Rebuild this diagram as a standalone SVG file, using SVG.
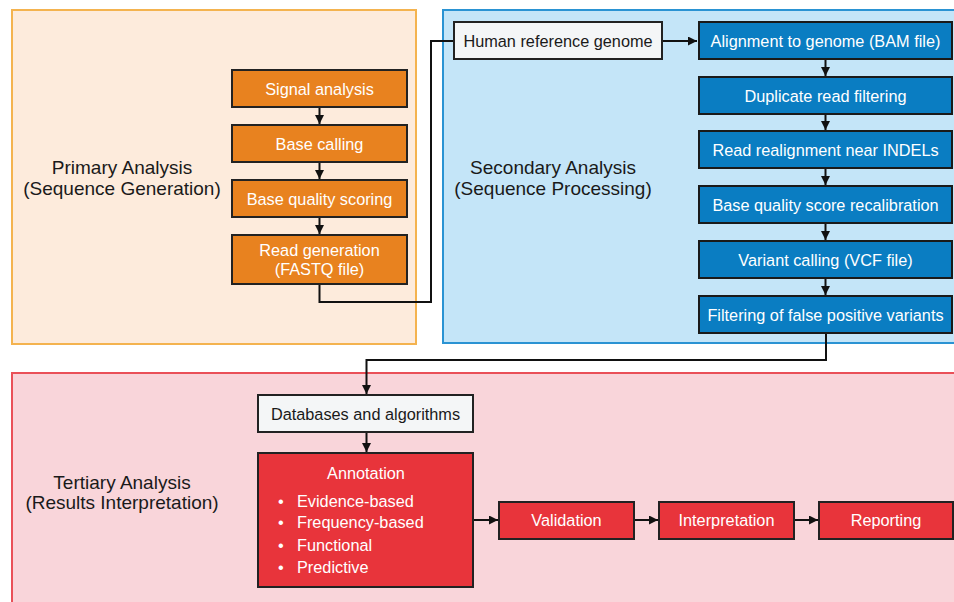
<svg xmlns="http://www.w3.org/2000/svg" width="954" height="602" viewBox="0 0 954 602">
<defs>
<marker id="arr" viewBox="0 0 10 10" refX="10" refY="5" markerWidth="4.5" markerHeight="4.5" orient="auto" markerUnits="strokeWidth">
<path d="M0,0 L10,5 L0,10 z" fill="#111"/>
</marker>
<style>
text{font-family:"Liberation Sans",Arial,sans-serif}
.lbl{font-size:19px;fill:#1a1a1a;text-anchor:middle}
.bt{font-size:16.3px;fill:#fff;text-anchor:middle}
.wt{font-size:16.3px;fill:#1a1a1a;text-anchor:middle}
.orange{fill:#e8821f;stroke:#222;stroke-width:2}
.blue{fill:#0a7dc2;stroke:#1a1a1a;stroke-width:2}
.red{fill:#e8343b;stroke:#222;stroke-width:2}
.white{fill:#f4f6f7;stroke:#222;stroke-width:2}
.conn{fill:none;stroke:#111;stroke-width:2}
.ann{font-size:16.3px;fill:#fff}
</style>
</defs>
<rect width="954" height="602" fill="#fff"/>
<g id="panels">
<rect x="12" y="10" width="404" height="334" fill="#fdebdc" stroke="#f4b34f" stroke-width="2"/>
<rect x="443" y="10" width="520" height="333" fill="#c4e5f8" stroke="#2a93d3" stroke-width="2"/>
<rect x="12" y="373" width="950" height="240" fill="#f9d5da" stroke="#ea5058" stroke-width="2"/>
<text class="lbl" x="122" y="174">Primary Analysis</text>
<text class="lbl" x="122" y="195">(Sequence Generation)</text>
<text class="lbl" x="553" y="174">Secondary Analysis</text>
<text class="lbl" x="553" y="195">(Sequence Processing)</text>
<text class="lbl" x="122" y="489">Tertiary Analysis</text>
<text class="lbl" x="122" y="509">(Results Interpretation)</text>
</g>
<g id="connectors">
<line class="conn" x1="319.5" y1="107" x2="319.5" y2="124" marker-end="url(#arr)"/>
<line class="conn" x1="319.5" y1="162" x2="319.5" y2="179" marker-end="url(#arr)"/>
<line class="conn" x1="319.5" y1="217" x2="319.5" y2="234" marker-end="url(#arr)"/>
<polyline class="conn" points="319.5,284 319.5,302 431,302 431,41 454,41"/>
<line class="conn" x1="662" y1="41" x2="697" y2="41" marker-end="url(#arr)"/>
<line class="conn" x1="825.5" y1="59" x2="825.5" y2="76" marker-end="url(#arr)"/>
<line class="conn" x1="825.5" y1="114" x2="825.5" y2="130" marker-end="url(#arr)"/>
<line class="conn" x1="825.5" y1="168" x2="825.5" y2="185" marker-end="url(#arr)"/>
<line class="conn" x1="825.5" y1="223" x2="825.5" y2="240" marker-end="url(#arr)"/>
<line class="conn" x1="825.5" y1="278" x2="825.5" y2="295" marker-end="url(#arr)"/>
<polyline class="conn" points="826,333 826,360 366.5,360 366.5,394" marker-end="url(#arr)"/>
<line class="conn" x1="366.5" y1="432" x2="366.5" y2="452" marker-end="url(#arr)"/>
<line class="conn" x1="473" y1="520" x2="498" y2="520" marker-end="url(#arr)"/>
<line class="conn" x1="634" y1="520" x2="658" y2="520" marker-end="url(#arr)"/>
<line class="conn" x1="794" y1="520" x2="818" y2="520" marker-end="url(#arr)"/>
</g>
<g id="signal"><rect class="orange" x="232" y="70" width="175" height="37"/><text class="bt" x="319.5" y="95">Signal analysis</text></g>
<g id="basecalling"><rect class="orange" x="232" y="125" width="175" height="37"/><text class="bt" x="319.5" y="150">Base calling</text></g>
<g id="basequality"><rect class="orange" x="232" y="180" width="175" height="37"/><text class="bt" x="319.5" y="205">Base quality scoring</text></g>
<g id="readgen"><rect class="orange" x="232" y="235" width="175" height="49"/><text class="bt" x="319.5" y="256">Read generation</text><text class="bt" x="319.5" y="275">(FASTQ file)</text></g>
<g id="humanref"><rect class="white" x="454" y="22" width="208" height="37"/><text class="wt" x="558" y="47">Human reference genome</text></g>
<g id="alignment"><rect class="blue" x="699" y="22" width="253" height="37"/><text class="bt" x="825.5" y="47">Alignment to genome (BAM file)</text></g>
<g id="duplicate"><rect class="blue" x="699" y="77" width="253" height="37"/><text class="bt" x="825.5" y="102">Duplicate read filtering</text></g>
<g id="realign"><rect class="blue" x="699" y="131" width="253" height="37"/><text class="bt" x="825.5" y="156">Read realignment near INDELs</text></g>
<g id="bqsr"><rect class="blue" x="699" y="186" width="253" height="37"/><text class="bt" x="825.5" y="211">Base quality score recalibration</text></g>
<g id="varcall"><rect class="blue" x="699" y="241" width="253" height="37"/><text class="bt" x="825.5" y="266">Variant calling (VCF file)</text></g>
<g id="filtering"><rect class="blue" x="699" y="296" width="253" height="37"/><text class="bt" x="825.5" y="321">Filtering of false positive variants</text></g>
<g id="databases"><rect class="white" x="258" y="395" width="215" height="37"/><text class="wt" x="365.5" y="420">Databases and algorithms</text></g>
<g id="annotation"><rect class="red" x="258" y="453" width="215" height="134"/>
<text class="bt" x="366" y="479">Annotation</text>
<text class="ann" x="278" y="507">•</text><text class="ann" x="297" y="507">Evidence-based</text>
<text class="ann" x="278" y="528">•</text><text class="ann" x="297" y="528">Frequency-based</text>
<text class="ann" x="278" y="551">•</text><text class="ann" x="297" y="551">Functional</text>
<text class="ann" x="278" y="573">•</text><text class="ann" x="297" y="573">Predictive</text>
</g>
<g id="validation"><rect class="red" x="499" y="502" width="135" height="37"/><text class="bt" x="566.5" y="526">Validation</text></g>
<g id="interpretation"><rect class="red" x="659" y="502" width="135" height="37"/><text class="bt" x="726.5" y="526">Interpretation</text></g>
<g id="reporting"><rect class="red" x="819" y="502" width="134" height="37"/><text class="bt" x="886" y="526">Reporting</text></g>
</svg>
